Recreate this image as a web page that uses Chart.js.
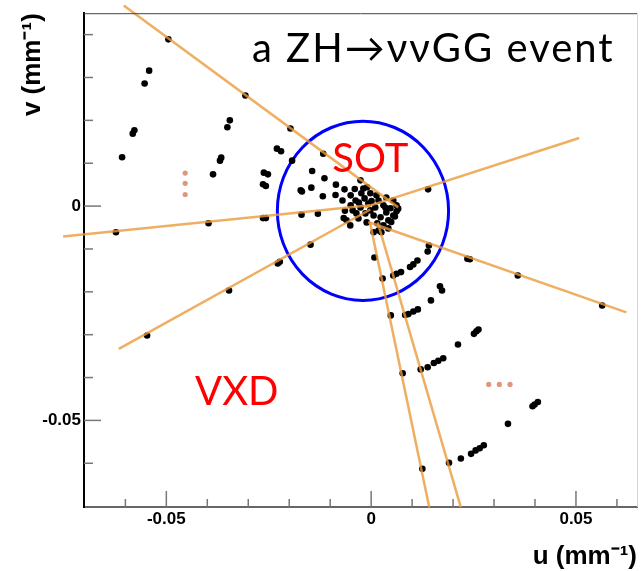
<!DOCTYPE html>
<html>
<head>
<meta charset="utf-8">
<script src="https://cdn.jsdelivr.net/npm/chart.js@4.4.1/dist/chart.umd.min.js"></script>
<style>
  html, body { margin: 0; padding: 0; background: #fff; }
  #wrap { width: 641px; height: 571px; }
</style>
</head>
<body>
<div id="wrap"><canvas id="myChart" width="641" height="571"></canvas></div>
<script>
// axis ranges (mm^-1)
const uRange = [-0.0701, 0.0649];
const vRange = [-0.0702, 0.045];
const uLabelTicks = [-0.05, 0, 0.05];
const uMinorTicks = [-0.06, -0.04, -0.03, -0.02, -0.01, 0.01, 0.02, 0.03, 0.04, 0.06];
const vLabelTicks = [-0.05, 0];
const vMinorTicks = [-0.06, -0.04, -0.03, -0.02, -0.01, 0.01, 0.02, 0.03, 0.04];

// hits [u, v]
const upperHits = [
  [-0.0495, 0.0389], [-0.0542, 0.0316], [-0.0553, 0.0286], [-0.0307, 0.0258],
  [-0.0578, 0.0177], [-0.0582, 0.0169], [-0.0345, 0.02], [-0.0351, 0.0184],
  [-0.0608, 0.0114], [-0.0366, 0.0113], [-0.0369, 0.0106], [-0.0386, 0.0074],
  [-0.0262, 0.0078], [-0.0252, 0.0074], [-0.0264, 0.0051], [-0.0257, 0.0047],
  [-0.023, 0.0134], [-0.022, 0.0128], [-0.0197, 0.0181], [-0.0193, 0.0106],
  [-0.0144, 0.0082], [-0.0146, 0.0043], [-0.0169, 0.0034], [-0.0172, 0.0037],
  [-0.0117, 0.0122], [-0.0114, 0.0065], [-0.0086, 0.005], [-0.0065, 0.0039],
  [-0.0118, 0.0023], [-0.0087, 0.0026], [-0.007, 0.0013], [-0.0026, 0.006],
  [-0.005, 0.0025],
];
const leftHits = [
  [-0.0623, -0.0061], [-0.0397, -0.004], [-0.0264, -0.0028], [-0.0257, -0.0028],
  [-0.017, -0.002], [-0.013, -0.0018], [-0.0064, -0.0011], [-0.0067, -0.0028],
  [-0.0547, -0.0302], [-0.0347, -0.0197], [-0.0228, -0.0134], [-0.0223, -0.013],
  [-0.0148, -0.009], [-0.0051, -0.0045],
];
const rightHits = [
  [0.0139, 0.0039], [0.0141, -0.0092], [0.0138, -0.0106], [0.0235, -0.0123],
  [0.0241, -0.0124], [0.0358, -0.0162], [0.0564, -0.0232],
];
const arcHits = [
  [0.0113, -0.0127], [0.0103, -0.0136], [0.0095, -0.0142], [0.0073, -0.0154],
  [0.0062, -0.0158], [0.0054, -0.0162], [0.0028, -0.0169], [0.0008, -0.012],
  [0.0168, -0.0187], [0.0173, -0.0197], [0.0146, -0.022], [0.0114, -0.0241],
  [0.0103, -0.0246], [0.0091, -0.0252], [0.0083, -0.0254], [0.0048, -0.0255],
  [0.0257, -0.0292], [0.0251, -0.0298], [0.0262, -0.0288], [0.0212, -0.0323],
  [0.0176, -0.0355], [0.0164, -0.0361], [0.0153, -0.0366], [0.0138, -0.0376],
  [0.0121, -0.0381], [0.0077, -0.039],
  [0.0407, -0.0457], [0.0399, -0.0463], [0.0394, -0.0467], [0.0334, -0.0508],
  [0.0275, -0.0558], [0.0265, -0.0565], [0.0255, -0.057], [0.0244, -0.0578],
  [0.0219, -0.0589], [0.019, -0.0599], [0.0125, -0.0613],
];
const coreHits = [
  [-0.0024, 0.003], [-0.0002, 0.003], [0.0013, 0.0025], [0.0037, 0.002],
  [0.0054, 0.0013], [0.0062, 0.0002], [-0.005, 0.0002], [-0.0026, -0.0003],
  [-0.0007, 0.0006], [0.001, -0.0003], [0.003, 0.0002], [0.0047, -0.0005],
  [0.0054, -0.0022], [0.0042, -0.0033], [0.003, -0.0045], [0.0018, -0.0057],
  [0.0006, -0.0061], [-0.0036, -0.0017], [-0.0014, -0.0017], [0.0006, -0.0022],
  [0.0023, -0.0026], [-0.0011, -0.0038], [-0.006, -0.0033], [-0.0038, 0.0013],
  [-0.0016, 0.0018], [0.0018, 0.0013], [-0.0002, -0.001], [0.0037, -0.0015],
  [-0.0031, -0.0029], [0.0062, -0.0012], [-0.0019, 0.0041], [0.0025, -0.0061],
  [0.0042, -0.0052], [0.0058, -0.0024], [0.0049, -0.0037], [0.0066, -0.0006],
  [-0.004, 0.004], [-0.001, 0.0044], [0.0001, 0.0012], [-0.0030, 0.0008],
  [0.0035, -0.0004], [0.0015, -0.0040], [-0.0045, -0.0010],
];

// fitted tracks: start and end [u, v]
const trackStart = [
  [-0.0604, 0.0468], [0.0508, 0.0159], [-0.0752, -0.0071], [-0.0616, -0.0333],
  [-0.0007, -0.0037], [-0.0003, -0.0038], [0.0016, -0.0038],
];
const trackEnd = [
  [0.0066, -0.0003], [-0.0016, -0.0003], [-0.0002, 0.0002], [-0.0002, -0.0008],
  [0.0623, -0.0248], [0.0142, -0.0703], [0.0219, -0.0703],
];

// SOT circle
const circleCenter = [-0.002, -0.0011];
const circleRadius = 0.0209;

// "more" dots
const moreDots = [
  [-0.0454, 0.0077], [-0.0454, 0.0053], [-0.0454, 0.0027],
  [0.0287, -0.0416], [0.0313, -0.0416], [0.0339, -0.0416],
];

const toXY = (p) => ({ x: p[0], y: p[1] });

const extras = {
  id: "extras",
  beforeDatasetsDraw(chart) {
    const { ctx, scales: { x, y } } = chart;
    const cx = x.getPixelForValue(circleCenter[0]);
    const cy = y.getPixelForValue(circleCenter[1]);
    const rx = x.getPixelForValue(circleCenter[0] + circleRadius) - cx;
    const ry = cy - y.getPixelForValue(circleCenter[1] + circleRadius);
    ctx.save();
    ctx.strokeStyle = "#0000ff";
    ctx.lineWidth = 3;
    ctx.beginPath();
    ctx.ellipse(cx, cy, rx, ry, 0, 0, Math.PI * 2);
    ctx.stroke();
    ctx.restore();
  },
  afterDraw(chart) {
    const { ctx, chartArea: a, scales: { x, y } } = chart;
    ctx.save();
    // frame top / right
    ctx.lineWidth = 1;
    ctx.strokeStyle = "#444";
    ctx.beginPath();
    ctx.moveTo(a.left, a.top + 0.5);
    ctx.lineTo(a.right, a.top + 0.5);
    ctx.stroke();
    ctx.strokeStyle = "#d4d4d4";
    ctx.beginPath();
    ctx.moveTo(a.right + 0.5, a.top);
    ctx.lineTo(a.right + 0.5, a.bottom);
    ctx.stroke();

    // inward ticks
    ctx.strokeStyle = "#777";
    ctx.lineWidth = 1.5;
    const tickU = (vals, len) => vals.forEach((v) => {
      const px = x.getPixelForValue(v);
      ctx.beginPath();
      ctx.moveTo(px, a.bottom);
      ctx.lineTo(px, a.bottom - len);
      ctx.stroke();
    });
    const tickV = (vals, len) => vals.forEach((v) => {
      const py = y.getPixelForValue(v);
      ctx.beginPath();
      ctx.moveTo(a.left, py);
      ctx.lineTo(a.left + len, py);
      ctx.stroke();
    });
    tickU(uLabelTicks, 16);
    tickU(uMinorTicks, 8);
    tickV(vLabelTicks, 17);
    tickV(vMinorTicks, 9);

    // labels
    ctx.fillStyle = "#000";
    ctx.font = "40px Lato";
    ctx.letterSpacing = "2px";
    ctx.textAlign = "left";
    ctx.textBaseline = "alphabetic";
    ctx.fillText("a ZH\u2192\u03bd\u03bdGG event", x.getPixelForValue(-0.0291), y.getPixelForValue(0.0335));
    ctx.letterSpacing = "0px";

    ctx.fillStyle = "#ff0000";
    ctx.textAlign = "center";
    ctx.font = "40px Lato";
    ctx.fillText("SOT", x.getPixelForValue(-0.0002), y.getPixelForValue(0.0079));
    ctx.fillText("VXD", x.getPixelForValue(-0.0328), y.getPixelForValue(-0.0463));
    ctx.restore();
  },
};

const axisFont = { family: "Liberation Sans", size: 17, weight: "bold" };
const titleFont = { family: "Liberation Sans", size: 26, weight: "bold", lineHeight: 1 };

const hits = [].concat(upperHits, leftHits, rightHits, arcHits, coreHits);

const trackSets = trackStart.map((s, i) => ({
  data: [toXY(s), toXY(trackEnd[i])],
  showLine: true,
  borderColor: "rgba(235, 155, 60, 0.8)",
  borderWidth: 2.5,
  pointRadius: 0,
  clip: false,
  order: 0,
}));

var ctx = document.getElementById("myChart").getContext("2d");
var myChart = new Chart(ctx, {
  type: "scatter",
  data: {
    datasets: trackSets.concat([
      {
        data: hits.map(toXY),
        backgroundColor: "#000",
        borderWidth: 0,
        pointRadius: 3.3,
        order: 1,
      },
      {
        data: moreDots.map(toXY),
        backgroundColor: "#e0967c",
        borderWidth: 0,
        pointRadius: 2.6,
        order: 1,
      },
    ]),
  },
  options: {
    responsive: false,
    animation: false,
    layout: { padding: { top: 13, right: 1, left: 0, bottom: 0 } },
    plugins: {
      legend: { display: false },
      tooltip: { enabled: false },
    },
    scales: {
      x: {
        type: "linear",
        position: "bottom",
        min: uRange[0],
        max: uRange[1],
        afterBuildTicks: (s) => { s.ticks = uLabelTicks.map((v) => ({ value: v })); },
        afterFit: (s) => { s.height = 64; },
        grid: { display: false, drawTicks: false },
        border: { display: true, color: "#666", width: 2 },
        ticks: {
          padding: 2,
          color: "#000",
          font: axisFont,
          autoSkip: false,
          maxRotation: 0,
          callback: (v) => String(v),
        },
        title: {
          display: true,
          text: "u (mm\u207b\u00b9)",
          align: "end",
          color: "#000",
          font: titleFont,
          padding: { top: 0, bottom: 1 },
        },
      },
      y: {
        type: "linear",
        position: "left",
        min: vRange[0],
        max: vRange[1],
        afterBuildTicks: (s) => { s.ticks = vLabelTicks.map((v) => ({ value: v })); },
        afterFit: (s) => { s.width = 84; },
        grid: { display: false, drawTicks: false },
        border: { display: true, color: "#000", width: 2 },
        ticks: {
          padding: 3,
          color: "#000",
          font: axisFont,
          autoSkip: false,
          callback: (v) => String(v),
        },
        title: {
          display: true,
          text: "v (mm\u207b\u00b9)",
          align: "end",
          color: "#000",
          font: titleFont,
          padding: { top: 20, bottom: 0 },
        },
      },
    },
  },
  plugins: [extras],
});
</script>
</body>
</html>
